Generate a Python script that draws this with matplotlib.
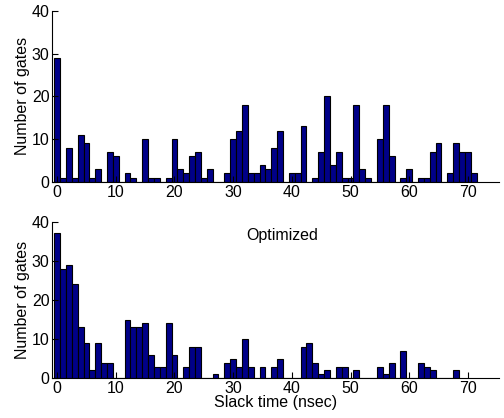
import numpy as np
import matplotlib
matplotlib.use('Agg')
import matplotlib.pyplot as plt

plt.rcParams['font.family'] = ['Liberation Sans', 'DejaVu Sans']
plt.rcParams['font.size'] = 11.5

# slack time bins (nsec)
bins_top = np.arange(0, 72)
bins_bot = np.arange(0, 69)

# gate counts per slack bin, original design
counts_orig = [29, 1, 8, 1, 11, 9, 1, 3, 0, 7,
               6, 0, 2, 1, 0, 10, 1, 1, 0, 1,
               10, 3, 2, 6, 7, 1, 3, 0, 0, 2,
               10, 12, 18, 2, 2, 4, 3, 8, 12, 0,
               2, 2, 13, 0, 1, 7, 20, 4, 7, 1,
               1, 18, 3, 1, 0, 10, 18, 6, 0, 1,
               3, 0, 1, 1, 7, 9, 0, 2, 9, 7,
               7, 2]

# gate counts per slack bin, optimized design
counts_opt = [37, 28, 29, 24, 13, 9, 2, 9, 4, 4,
              0, 0, 15, 13, 13, 14, 6, 3, 3, 14,
              6, 0, 3, 8, 8, 0, 0, 1, 0, 4,
              5, 3, 10, 3, 0, 3, 0, 3, 5, 0,
              0, 0, 8, 9, 4, 1, 2, 0, 3, 3,
              0, 2, 0, 0, 0, 3, 1, 4, 0, 7,
              0, 0, 4, 3, 2, 0, 0, 0, 2]

bar_color = '#000088'

fig = plt.figure(figsize=(5.04, 4.18), dpi=100)
ax1 = fig.add_axes([0.104, 0.565, 0.886, 0.409])
ax2 = fig.add_axes([0.104, 0.095, 0.886, 0.375])

for ax, x, y in [(ax1, bins_top, counts_orig), (ax2, bins_bot, counts_opt)]:
    ax.bar(x, y, width=1.0, color=bar_color, edgecolor='black', linewidth=0.8)
    ax.set_xlim(-0.8, 75.3)
    ax.set_ylim(0, 40)
    ax.set_xticks(np.arange(0, 80, 10))
    ax.set_yticks(np.arange(0, 50, 10))
    ax.spines['top'].set_visible(False)
    ax.spines['right'].set_visible(False)
    ax.tick_params(direction='in', length=4, pad=2, labelsize=11.5)
    ax.set_ylabel('Number of gates', fontsize=11.5, labelpad=1)

ax2.text(38.3, 36.5, 'Optimized', ha='center', va='center', fontsize=11.5)
ax2.set_xlabel('Slack time (nsec)', fontsize=11.5, labelpad=-1)

plt.savefig('out.png', dpi=100)
